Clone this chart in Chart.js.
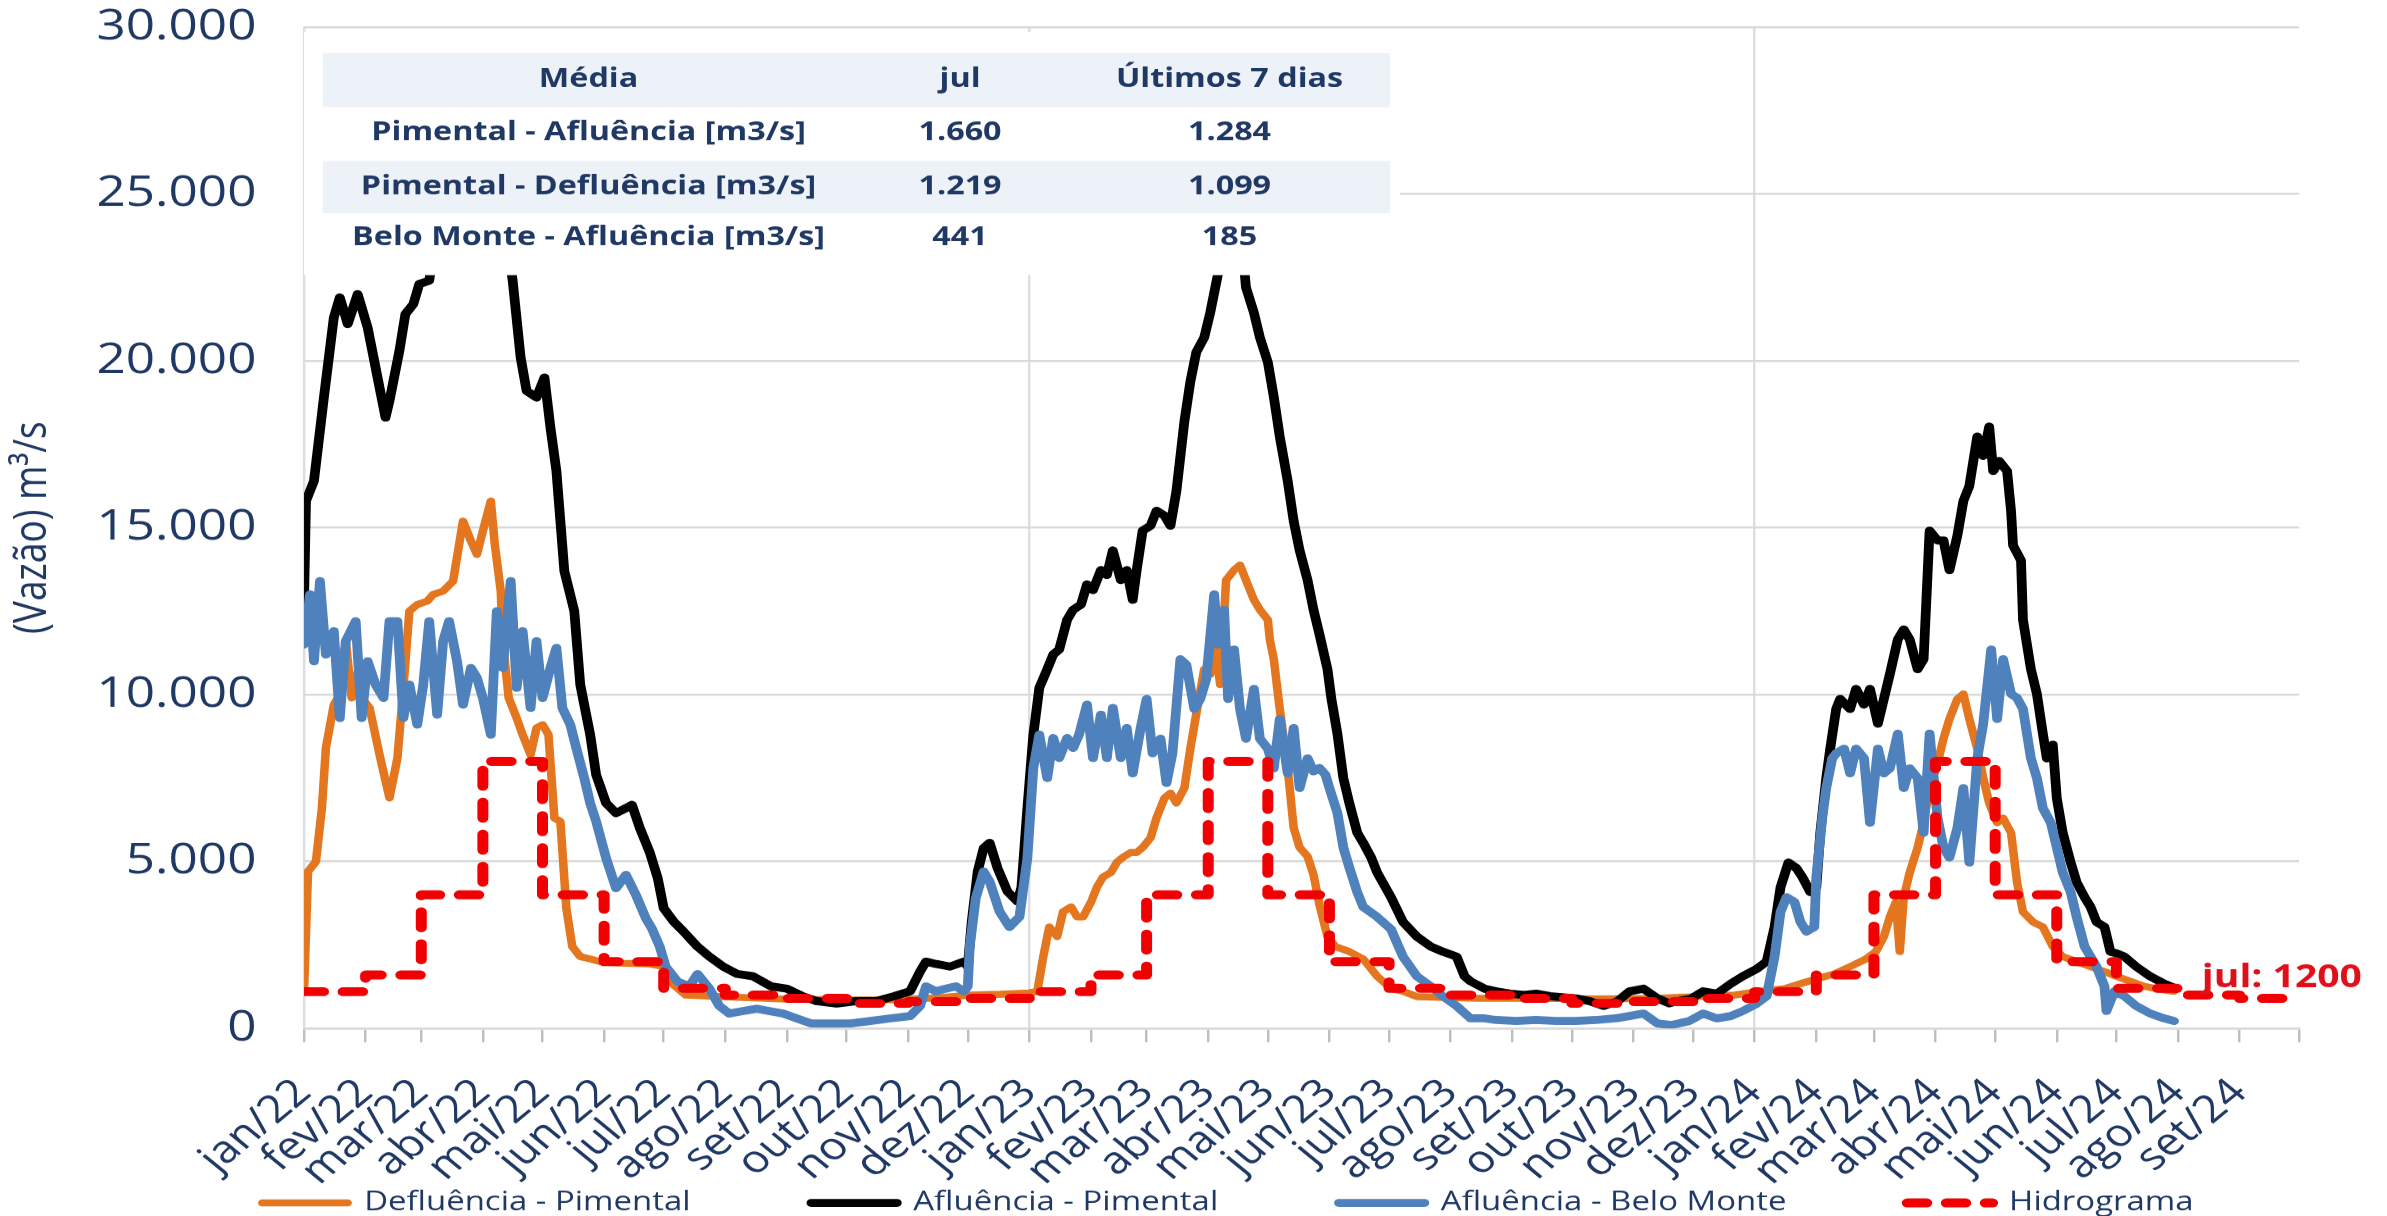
<!DOCTYPE html>
<html lang="pt-BR">
<head>
<meta charset="utf-8">
<title>Vazões Pimental / Belo Monte</title>
<script src="https://cdn.jsdelivr.net/npm/chart.js@4.4.1/dist/chart.umd.min.js"></script>
<style>
  html, body { margin: 0; padding: 0; background: #ffffff; width: 2387px; height: 1216px; overflow: hidden; }
  /* the reference image is stretched horizontally (~1.22x); reproduce that stretch */
  #wrap { position: absolute; left: 0; top: 0; width: 1957px; height: 1216px;
          transform: scaleX(1.21972); transform-origin: 0 0; }
</style>
</head>
<body>
<div id="wrap"><canvas id="grafico"></canvas></div>
<script>
// ---------------- DADOS ----------------
// dias contados a partir de 01/01/2022
const diasDefluencia = [0,2,6,9,11,15,18,21,24,26,29,33,38,43,47,50,53,57,62,65,70,75,80,84,87,90,94,96,99,100,103,107,110,114,117,120,123,126,129,132,135,139,144,149,161,174,181,186,192,210,240,270,300,320,335,350,365,369,372,375,379,382,386,389,392,396,399,402,406,409,412,416,419,422,426,429,433,436,439,443,446,449,453,456,459,461,464,468,471,474,478,481,485,486,488,491,495,498,501,505,508,511,515,519,526,533,540,547,553,560,590,620,650,680,700,720,731,745,753,761,770,778,786,791,795,798,801,803,805,808,812,815,818,822,825,828,832,835,838,842,845,848,852,855,859,862,865,870,875,880,885,892,899,906,912,919,926,932,941];
const defluenciaPimental = [1100,4700,5000,6600,8400,9700,10000,11600,9900,10600,9900,9600,8200,6900,8100,10200,12500,12700,12800,13000,13100,13400,15200,14600,14200,14900,15800,14500,13100,11600,9900,9300,8800,8200,9000,9100,8800,6300,6200,3600,2450,2150,2080,2000,1950,1930,1850,1300,1000,950,880,850,860,920,1000,1020,1060,1110,2150,3040,2750,3500,3640,3340,3340,3780,4230,4530,4670,4970,5120,5270,5270,5420,5710,6310,6900,7050,6750,7200,8380,9420,10760,10600,11350,10300,13430,13730,13880,13430,12840,12540,12240,11650,11060,9570,7790,6010,5420,5150,4600,3700,2750,2450,2300,2080,1560,1190,1110,950,900,900,880,900,950,1000,1100,1190,1340,1480,1630,1850,2080,2300,2750,3340,3780,2300,3930,4670,5420,6160,7200,7940,8680,9270,9870,10020,9270,8380,7500,6750,6160,6300,5860,4380,3490,3190,3040,2450,2150,2000,1850,1700,1560,1410,1260,1190,1110];

const diasAfluPimental = [0,1,5,10,15,18,22,27,32,37,41,43,48,51,55,58,63,68,78,90,100,105,109,112,117,121,124,127,131,136,139,144,147,152,157,162,165,169,174,178,181,186,191,198,204,211,218,226,235,243,251,258,268,278,288,297,305,310,313,318,325,332,334,336,339,342,345,349,354,359,361,364,367,370,374,377,380,384,387,391,394,397,401,404,407,411,414,417,419,422,426,429,433,436,439,443,446,449,453,456,459,463,468,472,474,478,481,485,488,491,495,498,501,505,508,511,515,517,520,523,526,530,533,537,540,547,553,560,567,573,580,584,587,594,600,607,614,620,627,634,641,647,654,661,667,674,681,687,691,698,704,711,718,724,731,736,740,743,747,751,754,758,761,763,766,768,771,773,778,781,785,788,792,795,798,802,805,808,812,815,818,822,825,828,832,835,838,842,845,848,850,853,857,859,860,864,865,869,872,875,877,880,882,885,889,892,896,899,902,906,909,912,916,922,929,936,942];
const afluenciaPimental = [12800,15800,16400,18900,21300,21900,21100,22000,21000,19500,18300,18800,20300,21400,21700,22300,22400,24500,26000,25500,24500,22400,20100,19100,18900,19500,18000,16700,13700,12500,10300,8800,7600,6750,6450,6600,6700,6000,5270,4500,3600,3200,2900,2450,2150,1850,1630,1560,1260,1190,965,816,742,816,816,965,1113,1700,2000,1930,1850,2000,1850,3200,4700,5400,5560,4800,4100,3800,4230,6600,8800,10200,10760,11200,11350,12240,12540,12700,13300,13130,13730,13580,14320,13430,13730,12840,13730,14910,15060,15510,15360,15060,16100,18180,19370,20260,20700,21440,22330,23500,24200,23500,22200,21440,20700,19960,18920,17730,16400,15200,14320,13430,12540,11800,10760,9870,8830,7500,6750,5860,5560,5120,4670,3930,3190,2750,2450,2300,2150,1560,1410,1190,1110,1040,1000,1040,965,930,890,816,670,816,1110,1190,900,750,816,890,1110,1040,1340,1560,1780,2000,3040,4230,4970,4800,4530,4080,4230,5860,7500,8380,9570,9870,9570,10170,9700,10170,9130,9870,10610,11650,11950,11650,10760,11060,14910,14620,14620,13730,14770,15800,16250,17730,17150,18030,16700,17000,16700,15500,14470,14020,12240,10760,10020,8830,8090,8500,6900,5860,4970,4380,3930,3640,3190,3040,2300,2250,2150,1850,1560,1340,1190];

const diasBeloMonte = [0,3,5,8,11,15,18,21,26,29,32,36,40,43,47,50,53,57,60,63,67,70,73,77,80,84,87,90,94,97,100,104,107,110,114,117,120,124,127,130,134,137,141,144,147,152,157,162,167,172,175,179,182,188,194,198,204,209,214,221,228,234,241,248,255,265,275,285,295,305,310,313,318,323,328,332,334,335,338,342,345,350,355,360,364,367,370,374,377,380,384,387,390,394,397,401,404,407,411,414,417,421,424,427,431,434,437,441,444,448,451,454,458,460,463,465,468,471,474,478,481,485,488,491,495,498,501,505,508,511,514,516,520,523,526,530,533,540,547,553,560,567,573,580,587,594,600,610,620,630,640,650,660,667,674,681,688,697,704,711,718,724,731,736,740,743,746,750,753,756,760,761,764,766,769,771,775,778,781,785,788,792,795,798,802,805,808,812,815,818,822,825,828,832,835,838,842,845,849,852,855,859,862,865,869,872,875,879,882,885,889,892,896,899,902,906,907,911,916,922,929,936,941];
const afluenciaBeloMonte = [11500,13000,11000,13400,11200,11900,9300,11600,12200,9300,11000,10300,9900,12200,12200,9300,10300,9100,10300,12200,9400,11600,12200,11000,9700,10800,10500,9900,8800,12500,10800,13400,10200,11900,9600,11600,9900,10800,11400,9600,9100,8400,7500,6750,6200,5100,4200,4600,4000,3300,3000,2450,1850,1400,1260,1630,1190,670,445,520,590,520,445,300,150,150,150,220,300,370,670,1260,1110,1190,1260,1110,1260,2450,3900,4700,4400,3500,3040,3340,5100,7800,8800,7500,8700,8100,8700,8400,8800,9700,8100,9400,8100,9600,8100,9000,7640,9000,9870,8240,8680,7350,8240,11060,10900,9570,9870,10460,13000,11500,12540,9870,11350,9570,8680,10170,8680,8380,7790,9270,7640,9000,7200,8090,7700,7800,7600,7200,6460,5420,4820,4080,3640,3340,2970,2150,1560,1260,965,670,300,300,250,220,250,220,220,250,300,370,445,150,100,220,445,300,370,520,740,965,2150,3490,3930,3790,3190,2900,3040,4530,6310,7200,8090,8240,8380,7640,8380,8090,6160,8380,7640,7790,8830,7200,7790,7500,5860,8830,6310,5420,5120,6010,7200,4970,8090,9130,11350,9270,11060,10020,9900,9570,8090,7500,6600,6160,5420,4670,4080,3340,2450,2150,1850,1260,520,1110,965,670,445,300,220];

// Hidrograma (valor vigente a partir do início de cada mês)
const mesesHidrograma = ['2022-01','2022-02','2022-03','2022-04','2022-05','2022-06','2022-07','2022-08','2022-09','2022-10','2022-11','2022-12',
                         '2023-01','2023-02','2023-03','2023-04','2023-05','2023-06','2023-07','2023-08','2023-09','2023-10','2023-11','2023-12',
                         '2024-01','2024-02','2024-03','2024-04','2024-05','2024-06','2024-07','2024-08','2024-09'];
const hidrograma = [1100,1600,4000,8000,4000,2000,1200,1000,900,750,800,900,
                    1100,1600,4000,8000,4000,2000,1200,1000,900,750,800,900,
                    1100,1600,4000,8000,4000,2000,1200,1000,900];
const fimHidrograma = '2024-09-25';

// rótulos do eixo x (um por mês)
const rotulosMeses = ['jan/22','fev/22','mar/22','abr/22','mai/22','jun/22','jul/22','ago/22','set/22','out/22','nov/22','dez/22',
                      'jan/23','fev/23','mar/23','abr/23','mai/23','jun/23','jul/23','ago/23','set/23','out/23','nov/23','dez/23',
                      'jan/24','fev/24','mar/24','abr/24','mai/24','jun/24','jul/24','ago/24','set/24'];

// tabela de médias
const tabelaCabecalho = ['Média', 'jul', 'Últimos 7 dias'];
const tabelaNomes = ['Pimental - Afluência [m3/s]', 'Pimental - Defluência [m3/s]', 'Belo Monte - Afluência [m3/s]'];
const tabelaJul = ['1.660', '1.219', '441'];
const tabelaUltimos7 = ['1.284', '1.099', '185'];

// rótulo do hidrograma
const rotuloHidrograma = { texto: 'jul: 1200', data: '2024-08-13', valor: 1500 };

// ---------------- AUXILIARES ----------------
const DIA0 = Date.UTC(2022, 0, 1);
function diaDe(str) {
  const p = str.split('-').map(Number);
  return (Date.UTC(p[0], p[1] - 1, p[2] || 1) - DIA0) / 86400000;
}
function pontos(dias, valores) { return dias.map((d, i) => ({ x: d, y: valores[i] })); }
const inicioMeses = [];
for (let i = 0; i <= rotulosMeses.length; i++) inicioMeses.push((Date.UTC(2022, i, 1) - DIA0) / 86400000);
const inicioAnos = [diaDe('2022-01-01'), diaDe('2023-01-01'), diaDe('2024-01-01')];
const pontosHidrograma = mesesHidrograma.map((m, i) => ({ x: diaDe(m), y: hidrograma[i] }));
pontosHidrograma.push({ x: diaDe(fimHidrograma), y: hidrograma[hidrograma.length - 1] });
const fmt = v => String(v).replace(/\B(?=(\d{3})+(?!\d))/g, '.');

const NAVY = '#1F3864';
const FONTE = "'Open Sans', 'DejaVu Sans', sans-serif";
Chart.defaults.font.family = FONTE;
Chart.defaults.color = NAVY;

// ---------------- PLUGINS ----------------
const tabelaPlugin = {
  id: 'tabelaMedias',
  afterDatasetsDraw(chart) {
    const ctx = chart.ctx;
    const L = chart.chartArea.left;
    ctx.save();
    ctx.fillStyle = '#ffffff';
    ctx.fillRect(L, 32, 1147.5 - L, 243);
    ctx.fillStyle = '#EDF1F8';
    ctx.fillRect(264.6, 53, 874.9, 54);
    ctx.fillRect(264.6, 161, 874.9, 52);
    ctx.fillStyle = NAVY;
    ctx.font = "bold 26.5px " + FONTE;
    ctx.textAlign = 'center';
    ctx.textBaseline = 'middle';
    const cols = [482.4, 786.9, 1007.8];
    const rows = [79, 132.5, 187, 237.5];
    tabelaCabecalho.forEach((t, j) => ctx.fillText(t, cols[j], rows[0]));
    tabelaNomes.forEach((t, i) => {
      ctx.fillText(t, cols[0], rows[i + 1]);
      ctx.fillText(tabelaJul[i], cols[1], rows[i + 1]);
      ctx.fillText(tabelaUltimos7[i], cols[2], rows[i + 1]);
    });
    // rótulo do hidrograma
    const xs = chart.scales.x, ys = chart.scales.y;
    ctx.fillStyle = '#E0101A';
    ctx.font = "bold 32px " + FONTE;
    ctx.textAlign = 'left';
    ctx.fillText(rotuloHidrograma.texto, xs.getPixelForValue(diaDe(rotuloHidrograma.data)), ys.getPixelForValue(rotuloHidrograma.valor));
    ctx.restore();
  }
};

// legend samples keep each dataset's own line style (dash, width, caps)
function rotulosLegenda(chart) {
  const itens = Chart.defaults.plugins.legend.labels.generateLabels(chart);
  itens.forEach(it => {
    const ds = chart.data.datasets[it.datasetIndex];
    it.lineDash = ds.borderDash || [];
    it.lineWidth = ds.borderWidth;
    it.lineCap = 'round';
    it.strokeStyle = ds.borderColor;
  });
  return itens;
}

// ---------------- GRÁFICO ----------------
new Chart(document.getElementById('grafico'), {
  type: 'line',
  data: {
    datasets: [
      { label: 'Defluência - Pimental', data: pontos(diasDefluencia, defluenciaPimental),
        borderColor: '#E4761F', backgroundColor: '#E4761F', borderWidth: 7, order: 3 },
      { label: 'Afluência - Pimental', data: pontos(diasAfluPimental, afluenciaPimental),
        borderColor: '#000000', backgroundColor: '#000000', borderWidth: 8, order: 2 },
      { label: 'Afluência - Belo Monte', data: pontos(diasBeloMonte, afluenciaBeloMonte),
        borderColor: '#4F81BD', backgroundColor: '#4F81BD', borderWidth: 8, order: 1 },
      { label: 'Hidrograma', data: pontosHidrograma, stepped: 'before',
        borderColor: '#F00000', backgroundColor: '#F00000', borderWidth: 9, borderDash: [16, 16],
        borderCapStyle: 'round', order: 0 }
    ]
  },
  options: {
    responsive: true,
    maintainAspectRatio: false,
    devicePixelRatio: 1.22,
    animation: false,
    elements: {
      point: { radius: 0, hoverRadius: 0 },
      line: { tension: 0, borderJoinStyle: 'round', borderCapStyle: 'round' }
    },
    layout: { padding: { left: 56, right: 0, top: 27, bottom: -10 } },
    scales: {
      x: {
        type: 'linear', min: 0, max: inicioMeses[inicioMeses.length - 1],
        afterBuildTicks: s => { s.ticks = inicioMeses.map(v => ({ value: v })); },
        afterFit: s => { s.height = 62; s._computeLabelArea = () => null; },
        ticks: {
          autoSkip: false, maxRotation: 45, minRotation: 45, padding: 28,
          color: NAVY, font: { size: 38 },
          callback: (v, i) => (rotulosMeses[i] !== undefined ? rotulosMeses[i] : '')
        },
        grid: {
          color: c => (c.tick && inicioAnos.includes(c.tick.value)) ? '#DEDEDE' : 'rgba(0,0,0,0)',
          lineWidth: 2, tickColor: '#BFBFBF', tickLength: 14, drawTicks: true
        },
        border: { display: true, color: '#D9D9D9', width: 2 }
      },
      y: {
        min: 0, max: 30000,
        afterFit: s => { s.width = 193.2; s.paddingTop = 0; s.paddingBottom = 0; s._computeLabelArea = () => null; },
        ticks: { stepSize: 5000, padding: 39, color: NAVY, font: { size: 42 }, callback: v => fmt(v) },
        grid: { color: '#D9D9D9', lineWidth: 2, drawTicks: false },
        border: { display: false },
        title: { display: true, text: '(Vazão) m³/s', color: NAVY, font: { size: 37 }, padding: { top: -51, bottom: 0 } }
      },
      // empty right-hand margin (keeps the plot width of the reference)
      margemDireita: {
        type: 'linear', position: 'right', display: true, min: 0, max: 1,
        afterFit: s => { s.width = 72.4; s.paddingTop = 0; s.paddingBottom = 0; },
        ticks: { display: false }, grid: { display: false, drawTicks: false }, border: { display: false }
      }
    },
    plugins: {
      legend: {
        position: 'bottom', align: 'center',
        labels: {
          usePointStyle: true, pointStyle: 'line', pointStyleWidth: 70,
          padding: 99, color: NAVY, font: { size: 27 },
          generateLabels: rotulosLegenda,
          sort: (a, b) => a.datasetIndex - b.datasetIndex
        }
      },
      tooltip: { enabled: false }
    }
  },
  plugins: [tabelaPlugin]
});
</script>
</body>
</html>
